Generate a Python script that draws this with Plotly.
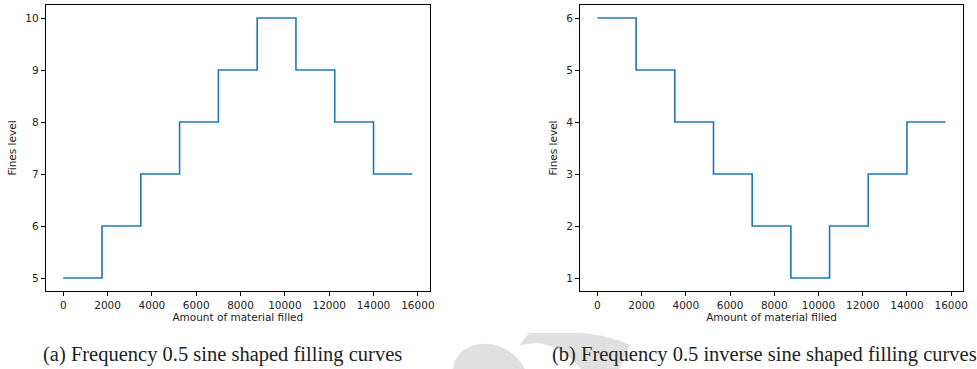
import plotly.graph_objects as go

# Filling schedule: amount of material filled at each level change
amount = [0, 1750, 3500, 5250, 7000, 8750, 10500, 12250, 14000, 15750]
sine_levels = [5, 6, 7, 8, 9, 10, 9, 8, 7, 7]
inverse_sine_levels = [6, 5, 4, 3, 2, 1, 2, 3, 4, 4]

x_ticks = [0, 2000, 4000, 6000, 8000, 10000, 12000, 14000, 16000]
x_tick_labels = ["0", "2000", "4000", "6000", "8000", "10000", "12000", "14000", "16000"]
sine_ticks = [5, 6, 7, 8, 9, 10]
inverse_ticks = [1, 2, 3, 4, 5, 6]

captions = [
    "(a) Frequency 0.5 sine shaped filling curves",
    "(b) Frequency 0.5 inverse sine shaped filling curves",
]

W, H = 977, 369
LINE = "#1f77b4"
MARK = "#e0e0e0"
TICK_FONT = dict(family="DejaVu Sans", size=10.5, color="#222222")


def px(x):
    return x / W


def py(y):
    return 1 - y / H


def bezier(p0, p1, p2, p3, n=24):
    pts = []
    for i in range(n + 1):
        t = i / n
        a, b, c, d = (1 - t) ** 3, 3 * (1 - t) ** 2 * t, 3 * (1 - t) * t ** 2, t ** 3
        pts.append((a * p0[0] + b * p1[0] + c * p2[0] + d * p3[0],
                    a * p0[1] + b * p1[1] + c * p2[1] + d * p3[1]))
    return pts


fig = go.Figure()

# Light grey background mark between the captions (page pixel coordinates)
dome = bezier((455, 370), (458, 336), (512, 334), (528, 370))
banner = ([(522, 345), (532, 333), (585, 333)]
          + bezier((585, 333), (605, 335), (622, 339), (633, 345), 10)
          + [(622, 370), (585, 370)]
          + bezier((585, 370), (572, 355), (558, 345), (540, 343), 10))
for outline in (dome, banner):
    fig.add_trace(go.Scatter(x=[p[0] for p in outline], y=[p[1] for p in outline],
                             mode="lines", fill="toself", fillcolor=MARK,
                             line=dict(width=0, color=MARK), hoverinfo="skip",
                             xaxis="x3", yaxis="y3", showlegend=False))

fig.add_trace(go.Scatter(x=amount, y=sine_levels, mode="lines",
                         line=dict(color=LINE, width=1.6, shape="hv"),
                         xaxis="x", yaxis="y", showlegend=False))
fig.add_trace(go.Scatter(x=amount, y=inverse_sine_levels, mode="lines",
                         line=dict(color=LINE, width=1.6, shape="hv"),
                         xaxis="x2", yaxis="y2", showlegend=False))

x_span = amount[-1] - amount[0]
x_range = [amount[0] - 0.05 * x_span, amount[-1] + 0.05 * x_span]


def y_range(vals):
    lo, hi = min(vals), max(vals)
    pad = 0.05 * (hi - lo)
    return [lo - pad, hi + pad]


common_axis = dict(showline=True, linecolor="black", linewidth=1, mirror=True,
                   ticks="outside", ticklen=4, tickwidth=1, tickcolor="black",
                   showgrid=False, zeroline=False, tickfont=TICK_FONT)

fig.update_layout(
    width=W, height=H,
    margin=dict(l=0, r=0, t=0, b=0),
    paper_bgcolor="white", plot_bgcolor="rgba(0,0,0,0)",
    xaxis=dict(domain=[px(46), px(432)], range=x_range, tickvals=x_ticks,
               ticktext=x_tick_labels, anchor="y",
               title=dict(text="Amount of material filled", font=TICK_FONT, standoff=3),
               **common_axis),
    yaxis=dict(domain=[py(291), py(5)], range=y_range(sine_levels), tickvals=sine_ticks,
               anchor="x",
               title=dict(text="Fines level", font=TICK_FONT, standoff=6),
               **common_axis),
    xaxis2=dict(domain=[px(583), px(968)], range=x_range, tickvals=x_ticks,
                ticktext=x_tick_labels, anchor="y2",
                title=dict(text="Amount of material filled", font=TICK_FONT, standoff=3),
                **common_axis),
    yaxis2=dict(domain=[py(291), py(5)], range=y_range(inverse_sine_levels),
                tickvals=inverse_ticks, anchor="x2",
                title=dict(text="Fines level", font=TICK_FONT, standoff=6),
                **common_axis),
    xaxis3=dict(domain=[0, 1], range=[0, W], visible=False, anchor="y3", fixedrange=True),
    yaxis3=dict(domain=[0, 1], range=[H, 0], visible=False, anchor="x3", fixedrange=True),
)

# Figure captions
for text, cx in zip(captions, [224, 768]):
    fig.add_annotation(text=text, xref="paper", yref="paper", x=px(cx), y=py(354),
                       showarrow=False, xanchor="center", yanchor="middle",
                       font=dict(family="Liberation Serif", size=20.5, color="#222222"))

fig.write_html("out.html")
